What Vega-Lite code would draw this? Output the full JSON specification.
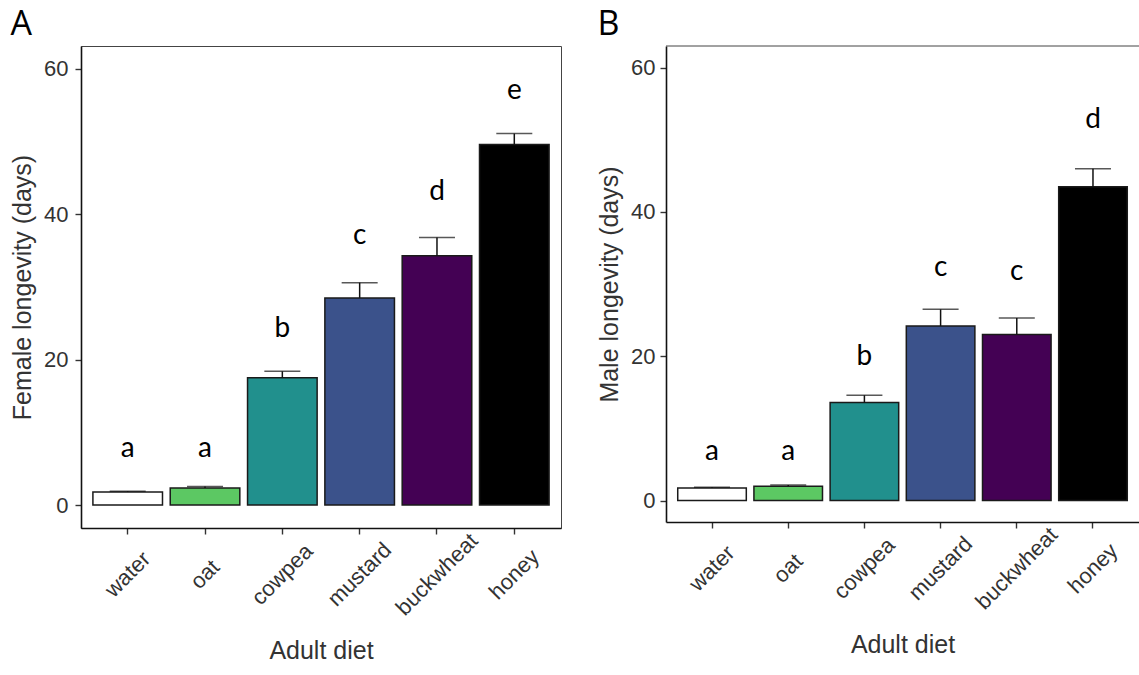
{
  "$schema": "https://vega.github.io/schema/vega-lite/v6.json",
  "background": "white",
  "padding": {"left": 10, "top": 7, "right": 0, "bottom": 0},
  "spacing": 35,
  "datasets": {
    "female": [
      {"diet": "water", "mean": 1.8, "upper": 1.9, "letter": "a", "label_y": 7.7},
      {"diet": "oat", "mean": 2.35, "upper": 2.55, "letter": "a", "label_y": 7.7},
      {"diet": "cowpea", "mean": 17.5, "upper": 18.4, "letter": "b", "label_y": 24.2},
      {"diet": "mustard", "mean": 28.5, "upper": 30.6, "letter": "c", "label_y": 37.0},
      {"diet": "buckwheat", "mean": 34.3, "upper": 36.8, "letter": "d", "label_y": 43.0},
      {"diet": "honey", "mean": 49.6, "upper": 51.1, "letter": "e", "label_y": 57.0}
    ],
    "male": [
      {"diet": "water", "mean": 1.75, "upper": 1.85, "letter": "a", "label_y": 6.8},
      {"diet": "oat", "mean": 2.0, "upper": 2.15, "letter": "a", "label_y": 6.8},
      {"diet": "cowpea", "mean": 13.6, "upper": 14.6, "letter": "b", "label_y": 19.9},
      {"diet": "mustard", "mean": 24.2, "upper": 26.5, "letter": "c", "label_y": 32.2},
      {"diet": "buckwheat", "mean": 23.0, "upper": 25.3, "letter": "c", "label_y": 31.7},
      {"diet": "honey", "mean": 43.5, "upper": 46.0, "letter": "d", "label_y": 52.7}
    ],
    "male_edge": [{"edge": 63.0}]
  },
  "config": {
    "view": {"stroke": "#444", "strokeWidth": 1},
    "axis": {
      "grid": false,
      "labelFont": "Liberation Sans",
      "labelFontSize": 22,
      "labelColor": "#333",
      "titleFont": "Liberation Sans",
      "titleFontSize": 25,
      "titleFontWeight": "normal",
      "titleColor": "#333",
      "domainColor": "#111",
      "domainWidth": 1.6,
      "tickColor": "#333",
      "tickWidth": 1.4,
      "tickSize": 6
    },
    "title": {"font": "Open Sans", "fontSize": 34, "fontWeight": "normal", "color": "#000", "anchor": "start", "frame": "bounds", "offset": 0}
  },
  "hconcat": [
    {
      "title": {"text": "A"},
      "width": 480,
      "height": 482,
      "data": {"name": "female"},
      "encoding": {
        "x": {
          "field": "diet", "type": "nominal",
          "sort": ["water", "oat", "cowpea", "mustard", "buckwheat", "honey"],
          "scale": {"paddingInner": 0.1, "paddingOuter": 0.154},
          "axis": {"title": "Adult diet", "labelAngle": -45, "labelAlign": "center", "labelBaseline": "middle", "labelPadding": 40, "titlePadding": 20}
        }
      },
      "layer": [
        {
          "mark": {"type": "bar", "stroke": "#1a1a1a", "strokeWidth": 1.5},
          "encoding": {
            "y": {"field": "mean", "type": "quantitative", "scale": {"domain": [-3.15, 63.15], "nice": false, "zero": false},
              "axis": {"title": "Female longevity (days)", "values": [0, 20, 40, 60], "labelPadding": 7, "titlePadding": 8}},
            "color": {"field": "diet", "type": "nominal", "legend": null,
              "scale": {"domain": ["water", "oat", "cowpea", "mustard", "buckwheat", "honey"],
                "range": ["#ffffff", "#5cc863", "#21908d", "#3b528b", "#440154", "#000000"]}}
          }
        },
        {
          "mark": {"type": "rule", "color": "#111", "strokeWidth": 1.5},
          "encoding": {"y": {"field": "mean", "type": "quantitative"}, "y2": {"field": "upper"}}
        },
        {
          "mark": {"type": "tick", "orient": "horizontal", "color": "#111", "thickness": 1.5, "size": 36},
          "encoding": {"y": {"field": "upper", "type": "quantitative"}}
        },
        {
          "mark": {"type": "text", "font": "Lato", "fontSize": 28, "color": "#000", "align": "center", "baseline": "middle"},
          "encoding": {"y": {"field": "label_y", "type": "quantitative"}, "text": {"field": "letter"}}
        }
      ]
    },
    {
      "title": {"text": "B"},
      "width": 473,
      "height": 476,
      "view": {"stroke": null},
      "layer": [
        {
          "data": {"name": "male"},
          "mark": {"type": "bar", "stroke": "#1a1a1a", "strokeWidth": 1.5},
          "encoding": {
            "x": {
              "field": "diet", "type": "nominal",
              "sort": ["water", "oat", "cowpea", "mustard", "buckwheat", "honey"],
              "scale": {"paddingInner": 0.1, "paddingOuter": 0.154},
              "axis": {"title": "Adult diet", "labelAngle": -45, "labelAlign": "center", "labelBaseline": "middle", "labelPadding": 40, "titlePadding": 20}
            },
            "y": {"field": "mean", "type": "quantitative", "scale": {"domain": [-2.97, 63.0], "nice": false, "zero": false},
              "axis": {"title": "Male longevity (days)", "values": [0, 20, 40, 60], "labelPadding": 5, "titlePadding": 8}},
            "color": {"field": "diet", "type": "nominal", "legend": null,
              "scale": {"domain": ["water", "oat", "cowpea", "mustard", "buckwheat", "honey"],
                "range": ["#ffffff", "#5cc863", "#21908d", "#3b528b", "#440154", "#000000"]}}
          }
        },
        {
          "data": {"name": "male"},
          "mark": {"type": "rule", "color": "#111", "strokeWidth": 1.5},
          "encoding": {
            "x": {"field": "diet", "type": "nominal", "sort": ["water", "oat", "cowpea", "mustard", "buckwheat", "honey"]},
            "y": {"field": "mean", "type": "quantitative"}, "y2": {"field": "upper"}}
        },
        {
          "data": {"name": "male"},
          "mark": {"type": "tick", "orient": "horizontal", "color": "#111", "thickness": 1.5, "size": 36},
          "encoding": {
            "x": {"field": "diet", "type": "nominal", "sort": ["water", "oat", "cowpea", "mustard", "buckwheat", "honey"]},
            "y": {"field": "upper", "type": "quantitative"}}
        },
        {
          "data": {"name": "male"},
          "mark": {"type": "text", "font": "Lato", "fontSize": 28, "color": "#000", "align": "center", "baseline": "middle"},
          "encoding": {
            "x": {"field": "diet", "type": "nominal", "sort": ["water", "oat", "cowpea", "mustard", "buckwheat", "honey"]},
            "y": {"field": "label_y", "type": "quantitative"}, "text": {"field": "letter"}}
        },
        {
          "data": {"name": "male_edge"},
          "mark": {"type": "rule", "color": "#444", "strokeWidth": 1},
          "encoding": {"y": {"field": "edge", "type": "quantitative"}}
        }
      ]
    }
  ]
}
